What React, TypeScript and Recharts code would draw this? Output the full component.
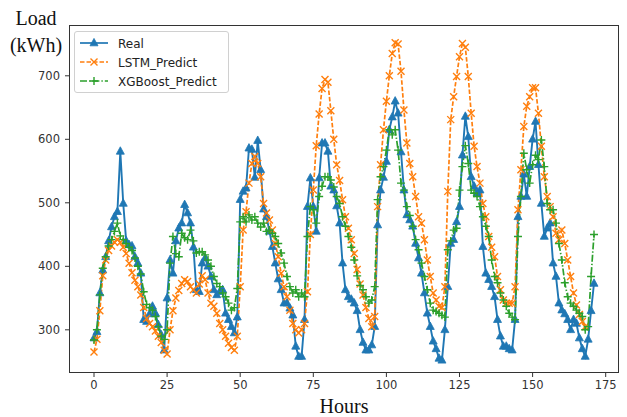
import { LineChart, Line, XAxis, YAxis } from "recharts";

// hourly load
const REAL = [
  287, 297, 358, 394, 415, 440, 462, 478, 486, 581,
  499, 440, 434, 432, 415, 405, 389, 316, 313, 325,
  337, 326, 308, 292, 268, 350, 410, 389, 440, 460,
  468, 497, 484, 468, 430, 363, 360, 405, 413, 400,
  384, 363, 355, 360, 363, 326, 316, 305, 295, 320,
  505, 518, 523, 586, 584, 540, 598, 552, 490, 478,
  455, 431, 405, 380, 363, 342, 342, 334, 323, 274,
  258, 258, 316, 494, 539, 494, 455, 539, 594, 594,
  581, 526, 520, 495, 468, 405, 363, 352, 348, 342,
  330, 300, 280, 268, 268, 276, 305, 465, 520, 540,
  565, 615, 635, 660, 641, 580, 520, 481, 473, 463,
  436, 413, 389, 358, 326, 305, 282, 270, 255, 252,
  300, 368, 436, 442, 470, 494, 575, 636, 604, 541,
  526, 515, 520, 431, 389, 379, 368, 352, 316, 290,
  274, 274, 270, 268, 316, 478, 510, 545, 510, 557,
  600, 628, 560, 499, 447, 460, 468, 405, 384, 342,
  331, 325, 316, 300, 316, 310, 287, 270, 258, 285,
  330, 373,
];

const LSTM = [
  265, 285, 330, 385, 410, 425, 432, 438, 442, 438,
  430, 420, 405, 390, 378, 368, 355, 335, 318, 310,
  305, 298, 290, 280, 268, 262, 300, 330, 350, 362,
  373, 379, 376, 368, 363, 358, 372, 385, 379, 358,
  342, 337, 326, 310, 300, 290, 279, 272, 268, 290,
  368, 457, 486, 531, 562, 573, 562, 541, 499, 484,
  473, 457, 436, 415, 389, 368, 352, 331, 310, 300,
  295, 300, 310, 360, 450, 520, 590, 640, 680, 694,
  690, 645, 600, 560, 535, 505, 478, 460, 442, 420,
  395, 372, 355, 335, 318, 305, 321, 494, 560, 615,
  660, 700, 735, 752, 750, 707, 646, 594, 562, 541,
  510, 478, 468, 442, 410, 384, 358, 347, 337, 335,
  368, 518, 631, 667, 699, 730, 751, 745, 699, 641,
  589, 557, 531, 499, 478, 447, 430, 415, 384, 363,
  347, 342, 342, 342, 368, 489, 552, 620, 652, 667,
  681, 681, 641, 589, 541, 510, 494, 478, 452, 442,
  457, 436, 410, 384, 358, 339, 324, 313, 305, null,
  null, null,
];

const XGB = [
  284, 300, 355, 397, 415, 432, 442, 455, 468, 448,
  442, 436, 430, 425, 413, 400, 388, 360, 340, 335,
  331, 321, 305, 290, 285, 300, 405, 447, 420, 415,
  452, 445, 442, 457, 440, 421, 423, 423, 418, 410,
  400, 384, 373, 368, 358, 352, 342, 331, 335, 365,
  470, 478, 470, 481, 473, 478, 468, 462, 468, 455,
  457, 452, 447, 436, 421, 405, 384, 368, 358, 363,
  352, 358, 352, 447, 494, 489, 468, 510, 526, 541,
  541, 536, 525, 510, 499, 478, 463, 447, 430, 410,
  385, 370, 363, 352, 342, 347, 368, 505, 541, 557,
  583, 615, 607, 615, 583, 531, 520, 494, 480, 463,
  442, 426, 405, 384, 363, 342, 331, 329, 326, 323,
  320, 426, 440, 457, 460, 520, 557, 590, 562, 520,
  515, 510, 494, 478, 463, 447, 410, 384, 374, 358,
  347, 337, 326, 320, 316, 447, 510, 578, 552, 531,
  560, 575, 568, 599, 557, 499, 489, 489, 468, 436,
  410, 374, 352, 342, 337, 331, 326, 321, 300, 305,
  384, 450,
];

const X_TICKS = [0, 25, 50, 75, 100, 125, 150, 175];
const Y_TICKS = [300, 400, 500, 600, 700];

const BLUE = "#1f77b4";
const ORANGE = "#ff7f0e";
const GREEN = "#2ca02c";

const data = REAL.map((real, i) => ({
  hour: i,
  real,
  lstm: LSTM[i],
  xgb: XGB[i],
}));

const Tri = (props: any) => {
  const { cx, cy, index } = props;
  if (cx == null || cy == null) return <g key={index} />;
  return (
    <polygon
      key={index}
      points={`${cx},${cy - 4.6} ${cx - 4},${cy + 2.8} ${cx + 4},${cy + 2.8}`}
      fill={BLUE}
      stroke={BLUE}
      strokeWidth={0.8}
    />
  );
};

const Cross = (props: any) => {
  const { cx, cy, index } = props;
  if (cx == null || cy == null) return <g key={index} />;
  const r = 3.5;
  return (
    <path
      key={index}
      d={`M${cx - r},${cy - r}L${cx + r},${cy + r}M${cx - r},${cy + r}L${cx + r},${cy - r}`}
      stroke={ORANGE}
      strokeWidth={1.4}
      fill="none"
    />
  );
};

const Plus = (props: any) => {
  const { cx, cy, index } = props;
  if (cx == null || cy == null) return <g key={index} />;
  const r = 4;
  return (
    <path
      key={index}
      d={`M${cx - r},${cy}H${cx + r}M${cx},${cy - r}V${cy + r}`}
      stroke={GREEN}
      strokeWidth={1.4}
      fill="none"
    />
  );
};

const legendItems = [
  { name: "Real", color: BLUE, dash: undefined, Mark: Tri },
  { name: "LSTM_Predict", color: ORANGE, dash: "4.5 2", Mark: Cross },
  { name: "XGBoost_Predict", color: GREEN, dash: "7 2 1.4 2", Mark: Plus },
];

const tickStyle = { fontSize: 11.5, fill: "#333", fontFamily: "DejaVu Sans, sans-serif" };
const serif = "'Liberation Serif', 'DejaVu Serif', serif";

export default function App() {
  return (
    <div style={{ position: "absolute", left: 0, top: 0, width: 627, height: 417, background: "#fff" }}>
      <LineChart
        width={627}
        height={417}
        data={data}
        margin={{ top: 25, right: 8, bottom: 0, left: 0 }}
      >
        <XAxis
          dataKey="hour"
          type="number"
          domain={[-8.55, 179.55]}
          ticks={X_TICKS}
          height={44}
          axisLine={false}
          tickSize={4}
          tickMargin={4}
          tickLine={{ stroke: "#333" }}
          tick={tickStyle}
          allowDataOverflow
        />
        <YAxis
          type="number"
          domain={[232, 780]}
          ticks={Y_TICKS}
          width={69}
          axisLine={false}
          tickSize={4}
          tickMargin={5}
          tickLine={{ stroke: "#333" }}
          tick={tickStyle}
          allowDataOverflow
        />
        <Line
          dataKey="real"
          stroke={BLUE}
          strokeWidth={1.9}
          dot={Tri}
          activeDot={false}
          isAnimationActive={false}
        />
        <Line
          dataKey="lstm"
          stroke={ORANGE}
          strokeWidth={1.7}
          strokeDasharray="4.5 2"
          dot={Cross}
          activeDot={false}
          isAnimationActive={false}
        />
        <Line
          dataKey="xgb"
          stroke={GREEN}
          strokeWidth={1.7}
          strokeDasharray="7 2 1.4 2"
          dot={Plus}
          activeDot={false}
          isAnimationActive={false}
        />
      </LineChart>

      {/* axes frame */}
      <div
        style={{
          position: "absolute",
          left: 69,
          top: 25,
          width: 550,
          height: 348,
          boxSizing: "border-box",
          border: "1px solid #333",
          pointerEvents: "none",
        }}
      />

      {/* legend */}
      <div
        style={{
          position: "absolute",
          left: 74,
          top: 31,
          width: 155,
          height: 62,
          boxSizing: "border-box",
          border: "1px solid #d0d0d0",
          borderRadius: 3,
          background: "rgba(255,255,255,0.85)",
        }}
      >
        <svg width={155} height={62}>
          {legendItems.map((it, i) => {
            const y = 11 + i * 19;
            const Mark = it.Mark;
            return (
              <g key={it.name}>
                <line x1={5} x2={33} y1={y} y2={y} stroke={it.color} strokeWidth={1.7} strokeDasharray={it.dash} />
                <Mark cx={19} cy={y} index={i} />
                <text x={43} y={y + 4.5} fontSize={12} fill="#222" fontFamily="DejaVu Sans, sans-serif">
                  {it.name}
                </text>
              </g>
            );
          })}
        </svg>
      </div>

      {/* axis titles */}
      <div style={{ position: "absolute", left: 0, top: 5, width: 72, textAlign: "center", fontFamily: serif, fontSize: 20, lineHeight: "27px", color: "#111" }}>
        Load
        <br />
        (kWh)
      </div>
      <div style={{ position: "absolute", left: 69, top: 395, width: 550, textAlign: "center", fontFamily: serif, fontSize: 20, lineHeight: "22px", color: "#111" }}>
        Hours
      </div>
    </div>
  );
}
